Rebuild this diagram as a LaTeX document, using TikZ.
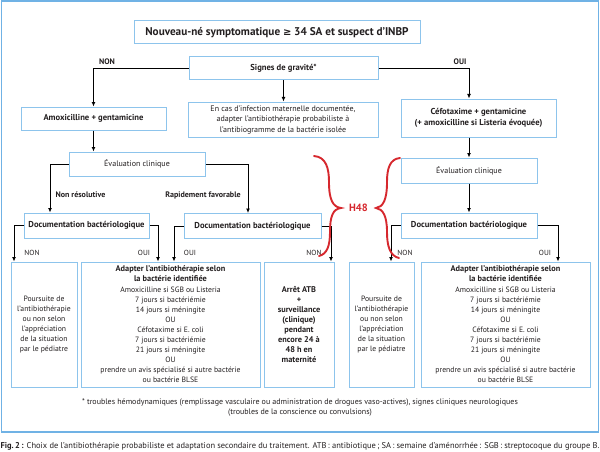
\documentclass[tikz,border=0pt]{standalone}
\usepackage{fontspec}
\setmainfont{PT Sans}
\newfontfamily\symfont{DejaVu Sans}
\usetikzlibrary{arrows.meta}

\definecolor{boxblue}{RGB}{141,196,236}
\definecolor{frameblue}{RGB}{112,178,229}
\definecolor{hred}{RGB}{214,40,46}
\definecolor{txt}{RGB}{35,31,32}

\newcommand\txtpoursuite{Poursuite de\\l’antibiothérapie\\ou non selon\\l’appréciation\\de la situation\\par le pédiatre}
\newcommand\txtadapter{{\fontsize{8.3}{10.1}\selectfont\bfseries Adapter l’antibiothérapie selon}\\{\fontsize{8.3}{10.1}\selectfont\bfseries la bactérie identifiée}\\Amoxicilline si SGB ou Listeria\\7 jours si bactériémie\\14 jours si méningite\\OU\\Céfotaxime si E. coli\\7 jours si bactériémie\\21 jours si méningite\\OU\\prendre un avis spécialisé si autre bactérie\\ou bactérie BLSE}

\tikzset{
	box/.style={draw=boxblue, line width=1pt, fill=white, align=center, inner sep=1pt,
		text=txt, font=\fontsize{8}{10.5}\selectfont},
	bbox/.style={box, font=\fontsize{8.6}{10.5}\selectfont\bfseries},
	lowbox/.style={box, minimum height=125pt, font=\fontsize{7.7}{10.1}\selectfont},
	arr/.style={draw=black, line width=.9pt, -{Latex[length=4.5pt,width=4pt]}},
	lbl/.style={text=txt, inner sep=0pt, font=\fontsize{7.4}{8}\selectfont},
	blbl/.style={lbl, font=\fontsize{8}{8}\selectfont\bfseries},
	brace/.style={draw=hred, line width=1.9pt, line cap=round},
}

\begin{document}
\begin{tikzpicture}[x=1pt, y=-1pt]
	\useasboundingbox (0,0) rectangle (600,452);
	\draw[frameblue, line width=1.6pt] (1.5,1) rectangle (598.5,432);

	% top part
	\node[bbox, minimum width=286pt, minimum height=23pt, font=\fontsize{11.2}{12}\selectfont\bfseries]
		(title) at (277,32.5) {Nouveau-né symptomatique {\symfont\fontsize{10}{12}\selectfont ≥} 34 SA et suspect d’INBP};
	\node[bbox, minimum width=189pt, minimum height=23pt] (sg) at (283.5,68.5) {Signes de gravité*};
	\node[box, minimum width=190pt, minimum height=35pt] (info) at (283,119.5)
		{En cas d’infection maternelle documentée,\\adapter l’antibiothérapie probabiliste à\\l’antibiogramme de la bactérie isolée};
	\node[bbox, minimum width=145pt, minimum height=23pt] (amox) at (93.5,118.5) {Amoxicilline + gentamicine};
	\node[bbox, minimum width=155pt, minimum height=38pt] (ceph) at (478.5,118)
		{Céfotaxime + gentamicine\\(+ amoxicilline si Listeria évoquée)};

	% evaluations and documentation
	\node[box, minimum width=136pt, minimum height=24pt] (evl) at (137,164) {Évaluation clinique};
	\node[box, minimum width=136pt, minimum height=25pt] (evr) at (469,170.5) {Évaluation clinique};
	\node[bbox, minimum width=125pt, minimum height=25pt] (doc1) at (86.5,225.5) {Documentation bactériologique};
	\node[bbox, minimum width=137pt, minimum height=25pt] (doc2) at (252.5,226) {Documentation bactériologique};
	\node[bbox, minimum width=136pt, minimum height=25pt] (doc3) at (469,225.5) {Documentation bactériologique};

	% bottom boxes
	\node[lowbox, minimum width=66pt] (b1) at (44,324.5) {\txtpoursuite};
	\node[lowbox, minimum width=179pt] (b2) at (170.5,324.5) {\txtadapter};
	\node[lowbox, minimum width=70pt, font=\fontsize{8.3}{10.1}\selectfont\bfseries] (b3) at (299,324.5)
		{Arrêt ATB\\+\\surveillance\\(clinique)\\pendant\\encore 24 à\\48 h en\\maternité};
	\node[lowbox, minimum width=65pt] (b4) at (381.5,324.5) {\txtpoursuite};
	\node[lowbox, minimum width=169pt] (b5) at (505.5,324.5) {\txtadapter};

	% columns of the vertical drops
	\foreach \name/\x in {c1/14, c2/50, c3/158, c4/174, c5/248, c6/331, c7/391, c9/558}
		\coordinate (\name) at (\x,0);

	\draw[arr] (sg.west) -| (amox.north);
	\draw[arr] (sg.east) -| (ceph.north -| evr.north);
	\draw[arr] (sg.south) -- (sg.south |- info.north);
	\draw[arr] (amox.south) -- (amox.south |- evl.north);
	\draw[arr] (evl.west) -| (doc1.north -| c2);
	\draw[arr] (evl.east) -| (doc2.north -| c5);
	\draw[arr] (evr.north |- ceph.south) -- (evr.north);
	\draw[arr] (evr.south) -- (doc3.north);
	\draw[arr] (doc1.west) -| (b1.north -| c1);
	\draw[arr] (doc1.east) -| (b2.north -| c3);
	\draw[arr] (doc2.west) -| (b2.north -| c4);
	\draw[arr] (doc2.east) -| (b3.north -| c6);
	\draw[arr] (doc3.west) -| (b4.north -| c7);
	\draw[arr] (doc3.east) -| (b5.north -| c9);

	% labels
	\node[blbl] (lnon) at (107,62) {NON};
	\node[blbl] (loui) at (460,62) {OUI};
	\node[blbl] (lnr) at (80.5,195) {Non résolutive};
	\node[blbl] (lrf) at (203,195) {Rapidement favorable};
	\foreach \name/\x/\t in {l1/32/NON, l2/144/OUI, l3/190/OUI, l4/314/NON, l5/405/NON, l6/545/OUI}
		\node[lbl] (\name) at (\x,253) {\t};

	% H48 braces
	\draw[brace] (314,156) .. controls (326,157) and (329,168) .. (329,182)
		.. controls (329,200) and (333,207) .. (341,208)
		.. controls (333,209) and (330,216) .. (330,232)
		.. controls (330,246) and (327,254) .. (319,256);
	\draw[brace] (400,158) .. controls (390,159) and (387,168) .. (387,182)
		.. controls (387,200) and (383,207) .. (376,208)
		.. controls (383,209) and (387,216) .. (387,232)
		.. controls (387,246) and (390,256) .. (399,258);
	\node[text=hred, font=\fontsize{10.5}{12}\selectfont\bfseries] (h48) at (358.5,208) {H48};

	% footnote and caption
	\node[lbl, align=center, font=\fontsize{8}{10.5}\selectfont] (foot) at (300,407.5)
		{* troubles hémodynamiques (remplissage vasculaire ou administration de drogues vaso-actives), signes cliniques neurologiques\\(troubles de la conscience ou convulsions)};
	\node[lbl, font=\fontsize{8.45}{10}\selectfont] (cap) at (300,446)
		{\textbf{Fig.\,2\,:} Choix de l’antibiothérapie probabiliste et adaptation secondaire du traitement. ATB\,: antibiotique\,; SA\,: semaine d’aménorrhée\,: SGB\,: streptocoque du groupe B.};
\end{tikzpicture}
\end{document}
